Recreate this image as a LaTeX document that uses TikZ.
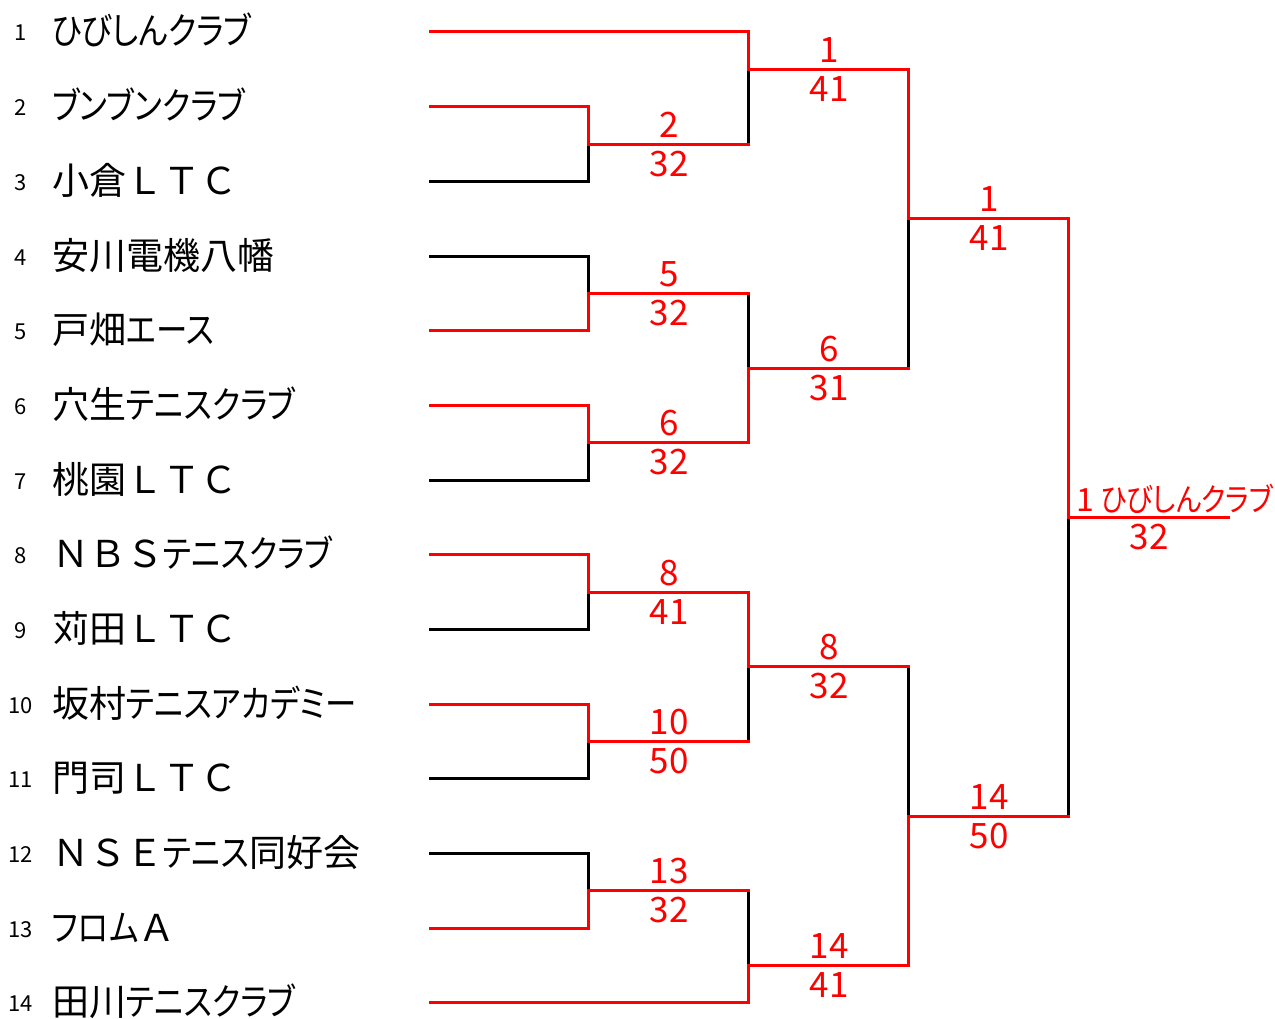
\documentclass[tikz,border=0pt]{standalone}
\usepackage{fontspec}
\setmainfont{Noto Sans CJK JP}
\newfontfamily\jpp{Noto Sans CJK JP}[RawFeature=+palt,FakeStretch=0.85]
\newfontfamily\jpf{Noto Sans CJK JP}
\definecolor{wred}{RGB}{255,0,0}
\begin{document}
\begin{tikzpicture}[x=1pt,y=-1pt,
  win/.style={draw=wred, line width=3pt, line cap=rect},
  lose/.style={draw=black, line width=3pt, line cap=rect},
  seed/.style={anchor=base, inner sep=0pt, font=\fontsize{22}{22}\selectfont},
  team/.style={anchor=base west, inner sep=0pt, font=\fontsize{37}{37}\selectfont},
  score/.style={anchor=base, inner sep=0pt, text=wred, font=\fontsize{35}{35}\selectfont}]
\fill[white] (0,0) rectangle (1275,1018);
\useasboundingbox (0,0) rectangle (1275,1018);

% seeds and team lines
\foreach \i/\y in {1/31,2/106,3/181,4/256,5/330,6/405,7/480,8/554,9/629,10/704,11/778,12/853,13/928,14/1002}{
  \node[seed] (s\i) at (21,\y+9) {\i};
  \coordinate (t\i) at (430,\y);
}
\node[team] (n1) at (52,44) {\jpp ひびしんクラブ};
\node[team] (n2) at (52,119) {\jpp ブンブンクラブ};
\node[team] (n3) at (52,194) {\jpf 小倉ＬＴＣ};
\node[team] (n4) at (52,269) {\jpf 安川電機八幡};
\node[team] (n5) at (52,343) {{\jpf 戸畑}{\jpp エース}};
\node[team] (n6) at (52,418) {{\jpf 穴生}{\jpp テニスクラブ}};
\node[team] (n7) at (52,493) {\jpf 桃園ＬＴＣ};
\node[team] (n8) at (52,567) {{\jpf ＮＢＳ}{\jpp テニスクラブ}};
\node[team] (n9) at (52,642) {\jpf 苅田ＬＴＣ};
\node[team] (n10) at (52,717) {{\jpf 坂村}{\jpp テニスアカデミー}};
\node[team] (n11) at (52,791) {\jpf 門司ＬＴＣ};
\node[team] (n12) at (52,866) {{\jpf ＮＳＥ}{\jpp テニス}{\jpf 同好会}};
\node[team] (n13) at (52,941) {{\jpp フロム}{\jpf Ａ}};
\node[team] (n14) at (52,1015) {{\jpf 田川}{\jpp テニスクラブ}};

% junctions
\coordinate (a23) at (588,144);
\coordinate (a45) at (588,293);
\coordinate (a67) at (588,442);
\coordinate (a89) at (588,592);
\coordinate (a1011) at (588,741);
\coordinate (a1213) at (588,890);
\coordinate (b1) at (748,69);
\coordinate (b2) at (748,368);
\coordinate (b3) at (748,666);
\coordinate (b4) at (748,965);
\coordinate (c1) at (908,218);
\coordinate (c2) at (908,816);
\coordinate (f) at (1068,517);
\coordinate (e) at (1228,517);

% losing lines
\draw[lose] (t3) -| (a23);
\draw[lose] (t4) -| (a45);
\draw[lose] (t7) -| (a67);
\draw[lose] (t9) -| (a89);
\draw[lose] (t11) -| (a1011);
\draw[lose] (t12) -| (a1213);
\draw[lose] (a23 -| b1) -- (b1);
\draw[lose] (a45 -| b2) -- (b2);
\draw[lose] (a1011 -| b3) -- (b3);
\draw[lose] (a1213 -| b4) -- (b4);
\draw[lose] (b2 -| c1) -- (c1);
\draw[lose] (b3 -| c2) -- (c2);
\draw[lose] (c2 -| f) -- (f);

% winning lines
\draw[win] (t1) -| (b1) -| (c1) -| (f) -- (e);
\draw[win] (t2) -| (a23) -- (a23 -| b1);
\draw[win] (t5) -| (a45) -- (a45 -| b2);
\draw[win] (t6) -| (a67) -| (b2) -- (b2 -| c1);
\draw[win] (t8) -| (a89) -| (b3) -- (b3 -| c2);
\draw[win] (t10) -| (a1011) -- (a1011 -| b3);
\draw[win] (t13) -| (a1213) -- (a1213 -| b4);
\draw[win] (t14) -| (b4) -| (c2) -- (c2 -| f);

% scores round 1
\node[score] (w23) at (669,137) {2};  \node[score] (p23) at (669,176) {32};
\node[score] (w45) at (669,286) {5};  \node[score] (p45) at (669,325) {32};
\node[score] (w67) at (669,435) {6};  \node[score] (p67) at (669,474) {32};
\node[score] (w89) at (669,585) {8};  \node[score] (p89) at (669,624) {41};
\node[score] (w1011) at (669,734) {10}; \node[score] (p1011) at (669,773) {50};
\node[score] (w1213) at (669,883) {13}; \node[score] (p1213) at (669,922) {32};
% round 2
\node[score] (wb1) at (829,62) {1};  \node[score] (pb1) at (829,101) {41};
\node[score] (wb2) at (829,361) {6}; \node[score] (pb2) at (829,400) {31};
\node[score] (wb3) at (829,659) {8}; \node[score] (pb3) at (829,698) {32};
\node[score] (wb4) at (829,958) {14}; \node[score] (pb4) at (829,997) {41};
% round 3
\node[score] (wc1) at (989,211) {1};  \node[score] (pc1) at (989,250) {41};
\node[score] (wc2) at (989,809) {14}; \node[score] (pc2) at (989,848) {50};
% final
\node[score, anchor=base west, font=\fontsize{32}{32}\selectfont] (champ) at (1076,511) {1 {\jpp ひびしんクラブ}};
\node[score] (pf) at (1149,549) {32};
\end{tikzpicture}
\end{document}
